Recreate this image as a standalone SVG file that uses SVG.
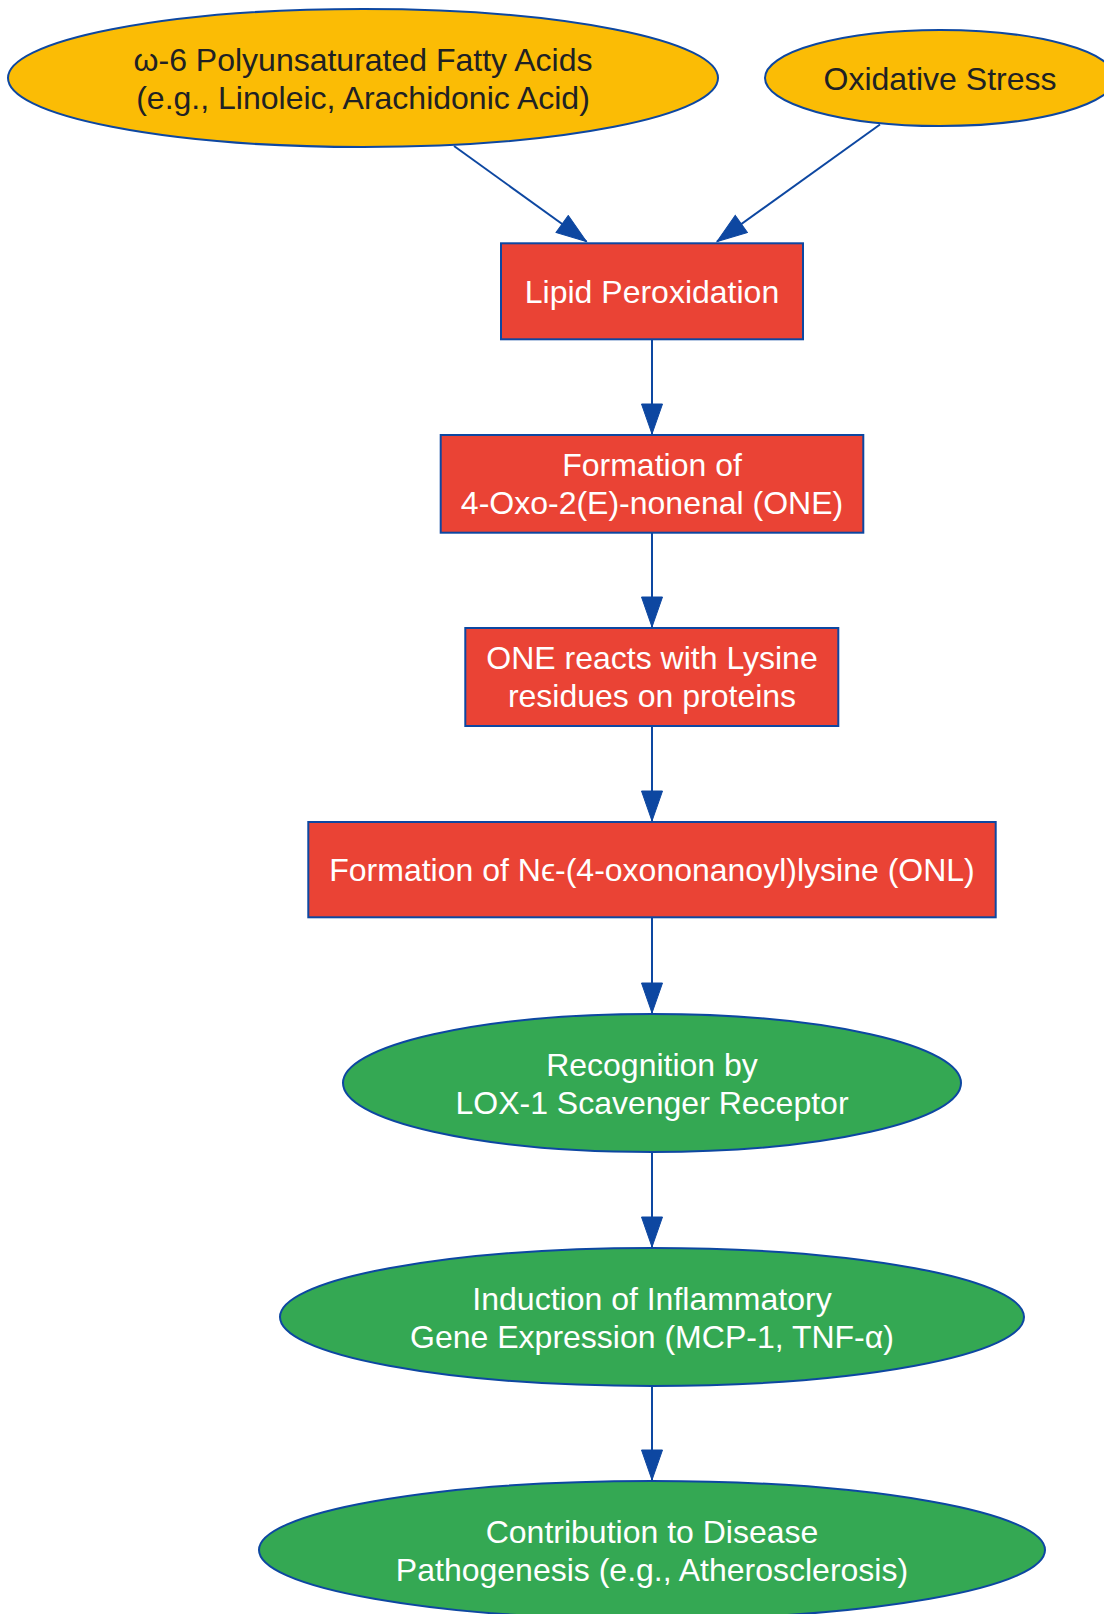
<svg xmlns="http://www.w3.org/2000/svg" width="1104" height="1614" viewBox="0 0 1104 1614">
<style>
.yel{fill:#FBBC05;stroke:#0D47A1;stroke-width:2}
.red{fill:#EA4335;stroke:#0D47A1;stroke-width:2}
.grn{fill:#34A853;stroke:#0D47A1;stroke-width:2}
text{font-family:"Liberation Sans",Arial,"DejaVu Sans",sans-serif;font-size:32px;text-anchor:middle}
.dk{fill:#202124}
.wt{fill:#FFFFFF}
.edge{fill:none;stroke:#0D47A1;stroke-width:2;marker-end:url(#arr)}
</style>
<defs>
<marker id="arr" markerUnits="userSpaceOnUse" markerWidth="33" markerHeight="23" refX="31" refY="11" orient="auto">
<path d="M1,0.5 L31,11 L1,21.5 Z" fill="#0D47A1" stroke="#0D47A1" stroke-width="1"/>
</marker>
</defs>
<rect width="1104" height="1614" fill="#FFFFFF"/>
<g id="connectors">
<path class="edge" d="M454,146 L586.5,241.5"/>
<path class="edge" d="M880,124.5 L717,241.5"/>
<path class="edge" d="M652,339.5 L652,434"/>
<path class="edge" d="M652,533 L652,627"/>
<path class="edge" d="M652,726 L652,821"/>
<path class="edge" d="M652,918 L652,1013"/>
<path class="edge" d="M652,1152 L652,1247"/>
<path class="edge" d="M652,1386 L652,1480"/>
</g>
<g id="pufa">
<ellipse class="yel" cx="363" cy="78" rx="355" ry="69"/>
<text class="dk" x="363" y="71">ω-6 Polyunsaturated Fatty Acids</text>
<text class="dk" x="363" y="109">(e.g., Linoleic, Arachidonic Acid)</text>
</g>
<g id="oxstress">
<ellipse class="yel" cx="940" cy="78" rx="175" ry="48"/>
<text class="dk" x="940" y="90">Oxidative Stress</text>
</g>
<g id="lipidperox">
<rect class="red" x="501" y="243.3" width="302" height="96"/>
<text class="wt" x="652" y="303">Lipid Peroxidation</text>
</g>
<g id="one">
<rect class="red" x="440.7" y="435" width="422.6" height="97.7"/>
<text class="wt" x="652" y="476">Formation of</text>
<text class="wt" x="652" y="514">4-Oxo-2(E)-nonenal (ONE)</text>
</g>
<g id="lysine">
<rect class="red" x="465.3" y="628" width="373" height="98"/>
<text class="wt" x="652" y="669">ONE reacts with Lysine</text>
<text class="wt" x="652" y="707">residues on proteins</text>
</g>
<g id="onl">
<rect class="red" x="308.3" y="822" width="687.4" height="95.3"/>
<text class="wt" x="652" y="881">Formation of Nϵ-(4-oxononanoyl)lysine (ONL)</text>
</g>
<g id="lox1">
<ellipse class="grn" cx="652" cy="1083" rx="309" ry="69"/>
<text class="wt" x="652" y="1076">Recognition by</text>
<text class="wt" x="652" y="1114">LOX-1 Scavenger Receptor</text>
</g>
<g id="inflam">
<ellipse class="grn" cx="652" cy="1317" rx="372" ry="69"/>
<text class="wt" x="652" y="1310">Induction of Inflammatory</text>
<text class="wt" x="652" y="1348">Gene Expression (MCP-1, TNF-α)</text>
</g>
<g id="disease">
<ellipse class="grn" cx="652" cy="1550" rx="393" ry="69"/>
<text class="wt" x="652" y="1543">Contribution to Disease</text>
<text class="wt" x="652" y="1581">Pathogenesis (e.g., Atherosclerosis)</text>
</g>
</svg>
